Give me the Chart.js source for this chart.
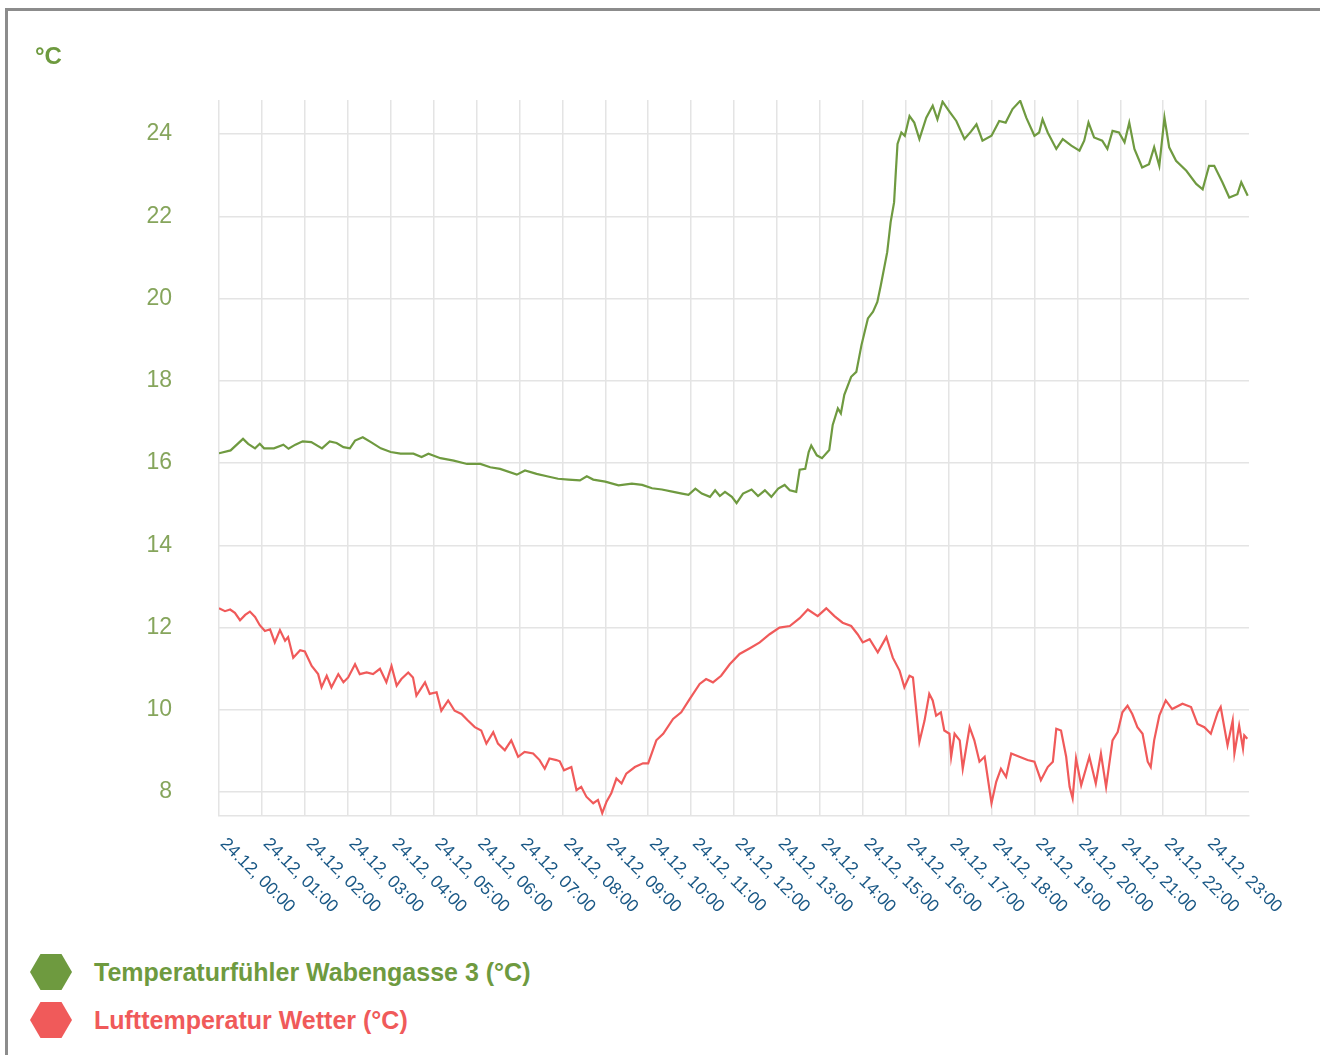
<!DOCTYPE html>
<html><head><meta charset="utf-8">
<script src="https://cdn.jsdelivr.net/npm/chart.js@4.4.1/dist/chart.umd.min.js"></script>
<style>
html,body{margin:0;padding:0;background:#fff;overflow:hidden;width:1320px;height:1055px;}
#frame{position:absolute;left:5px;top:8px;width:1400px;height:1200px;border:3px solid #8c8c8c;box-sizing:border-box;}
#c{position:absolute;left:0;top:0;}
#unit{position:absolute;left:35px;top:42px;font:bold 24px "Liberation Sans",Arial,sans-serif;color:#6e9a3f;}
.leg{position:absolute;left:30px;height:40px;display:flex;align-items:center;font:bold 25px "Liberation Sans",Arial,sans-serif;white-space:nowrap;}
.leg svg{margin-right:22px;flex:none}
</style></head>
<body>
<div id="frame"></div>
<canvas id="c" width="1320" height="940"></canvas>
<div id="unit">°C</div>
<div class="leg" id="leg0" style="top:952px;color:#6e9a3f"><svg width="42" height="36"><polygon points="0,18 10.5,0 31.5,0 42,18 31.5,36 10.5,36" fill="#6e9a3f"/></svg><span>Temperaturfühler Wabengasse 3 (°C)</span></div>
<div class="leg" id="leg1" style="top:1000px;color:#f05a5a"><svg width="42" height="36"><polygon points="0,18 10.5,0 31.5,0 42,18 31.5,36 10.5,36" fill="#f05a5a"/></svg><span>Lufttemperatur Wetter (°C)</span></div>
<script>
const seriesNames = ['Temperaturfühler Wabengasse 3 (°C)', 'Lufttemperatur Wetter (°C)'];
const hourTicks = [0,1,2,3,4,5,6,7,8,9,10,11,12,13,14,15,16,17,18,19,20,21,22,23];
const tickLabels = ['24.12, 00:00','24.12, 01:00','24.12, 02:00','24.12, 03:00','24.12, 04:00','24.12, 05:00','24.12, 06:00','24.12, 07:00','24.12, 08:00','24.12, 09:00','24.12, 10:00','24.12, 11:00','24.12, 12:00','24.12, 13:00','24.12, 14:00','24.12, 15:00','24.12, 16:00','24.12, 17:00','24.12, 18:00','24.12, 19:00','24.12, 20:00','24.12, 21:00','24.12, 22:00','24.12, 23:00'];
const yTicks = [8,10,12,14,16,18,20,22,24];

const greenTimes = [0.00,0.27,0.56,0.68,0.84,0.95,1.05,1.28,1.50,1.62,1.78,1.95,2.15,2.40,2.58,2.74,2.90,3.05,3.17,3.35,3.54,3.77,4.00,4.23,4.53,4.72,4.88,5.16,5.47,5.78,6.09,6.32,6.55,6.94,7.13,7.40,7.64,7.90,8.14,8.41,8.57,8.72,9.00,9.31,9.62,9.86,10.09,10.32,10.59,10.79,10.94,11.10,11.25,11.44,11.56,11.67,11.79,11.95,12.06,12.21,12.41,12.56,12.72,12.87,13.03,13.18,13.30,13.45,13.53,13.66,13.74,13.80,13.93,14.05,14.22,14.30,14.42,14.49,14.57,14.73,14.85,14.97,15.12,15.24,15.34,15.42,15.57,15.65,15.73,15.77,15.81,15.90,15.98,16.09,16.20,16.32,16.48,16.63,16.74,16.86,17.02,17.18,17.37,17.52,17.65,17.79,18.00,18.18,18.33,18.49,18.67,18.81,19.00,19.11,19.19,19.31,19.51,19.66,19.86,20.05,20.16,20.26,20.39,20.58,20.70,20.82,20.97,21.10,21.21,21.33,21.51,21.67,21.79,21.91,22.03,22.14,22.30,22.54,22.77,22.92,23.07,23.19,23.38,23.54,23.73,23.82,23.97];
const greenValues = [16.24,16.31,16.59,16.47,16.36,16.47,16.36,16.36,16.45,16.35,16.45,16.53,16.51,16.36,16.53,16.49,16.39,16.36,16.55,16.63,16.51,16.36,16.27,16.23,16.23,16.15,16.23,16.12,16.06,15.98,15.98,15.90,15.86,15.72,15.82,15.74,15.68,15.62,15.60,15.58,15.68,15.60,15.55,15.46,15.50,15.47,15.39,15.36,15.30,15.26,15.23,15.38,15.26,15.18,15.34,15.20,15.30,15.18,15.03,15.26,15.36,15.20,15.34,15.18,15.38,15.47,15.34,15.30,15.84,15.86,16.27,16.43,16.19,16.12,16.32,16.93,17.33,17.21,17.66,18.10,18.22,18.87,19.52,19.68,19.92,20.32,21.13,21.86,22.34,23.07,23.76,24.04,23.96,24.44,24.28,23.88,24.40,24.69,24.36,24.79,24.55,24.32,23.88,24.06,24.24,23.84,23.96,24.32,24.28,24.61,24.81,24.40,23.96,24.04,24.36,24.04,23.64,23.88,23.72,23.60,23.84,24.28,23.92,23.84,23.64,24.08,24.04,23.80,24.28,23.64,23.19,23.27,23.68,23.23,24.40,23.68,23.35,23.11,22.79,22.66,23.23,23.23,22.83,22.46,22.54,22.83,22.50];

const redTimes = [0.00,0.14,0.26,0.37,0.49,0.61,0.72,0.84,0.95,1.07,1.19,1.30,1.42,1.54,1.61,1.73,1.89,2.00,2.16,2.31,2.39,2.51,2.62,2.78,2.90,3.01,3.17,3.28,3.44,3.59,3.75,3.90,4.02,4.14,4.25,4.41,4.52,4.60,4.80,4.91,5.07,5.18,5.34,5.49,5.65,5.80,5.96,6.11,6.23,6.39,6.50,6.66,6.81,6.97,7.12,7.32,7.47,7.59,7.70,7.86,7.94,8.04,8.21,8.33,8.44,8.56,8.72,8.83,8.93,9.03,9.14,9.26,9.38,9.49,9.69,9.88,10.00,10.19,10.35,10.58,10.77,10.97,11.20,11.35,11.51,11.70,11.90,12.13,12.37,12.60,12.83,13.06,13.30,13.53,13.72,13.95,14.15,14.34,14.53,14.73,14.88,15.00,15.16,15.35,15.55,15.70,15.86,15.97,16.09,16.17,16.32,16.44,16.55,16.63,16.71,16.82,16.90,17.02,17.06,17.14,17.26,17.33,17.49,17.60,17.72,17.84,18.00,18.11,18.22,18.34,18.46,18.65,18.84,19.00,19.15,19.31,19.43,19.51,19.62,19.74,19.82,19.89,19.97,20.09,20.20,20.28,20.43,20.55,20.67,20.82,20.94,21.05,21.17,21.28,21.40,21.52,21.64,21.71,21.79,21.91,22.06,22.21,22.45,22.65,22.80,22.96,23.11,23.27,23.34,23.50,23.62,23.66,23.77,23.86,23.89,23.96];
const redValues = [12.47,12.40,12.44,12.36,12.18,12.31,12.39,12.26,12.06,11.92,11.96,11.64,11.94,11.68,11.77,11.27,11.45,11.42,11.07,10.87,10.55,10.83,10.55,10.87,10.67,10.79,11.11,10.87,10.91,10.87,11.00,10.67,11.07,10.59,10.75,10.91,10.79,10.35,10.67,10.39,10.43,9.98,10.23,9.98,9.90,9.74,9.58,9.50,9.18,9.46,9.18,9.02,9.26,8.86,8.98,8.94,8.78,8.57,8.82,8.78,8.75,8.53,8.61,8.05,8.13,7.89,7.73,7.81,7.49,7.77,7.97,8.33,8.21,8.45,8.61,8.70,8.70,9.26,9.42,9.78,9.94,10.27,10.63,10.75,10.67,10.83,11.11,11.36,11.50,11.64,11.84,12.00,12.04,12.23,12.44,12.28,12.47,12.28,12.12,12.04,11.84,11.64,11.72,11.40,11.77,11.27,10.95,10.55,10.83,10.79,9.22,9.74,10.39,10.23,9.86,9.94,9.50,9.42,8.86,9.42,9.26,8.57,9.58,9.26,8.74,8.86,7.73,8.25,8.57,8.37,8.94,8.86,8.78,8.74,8.29,8.61,8.74,9.54,9.50,8.86,8.13,7.85,8.82,8.17,8.57,8.86,8.21,8.94,8.13,9.26,9.46,9.94,10.10,9.90,9.58,9.42,8.74,8.61,9.26,9.86,10.23,10.02,10.15,10.07,9.66,9.58,9.42,9.94,10.07,9.14,9.74,8.94,9.62,9.06,9.38,9.30];

const GREEN = '#6f9a40', RED = '#f05a5a', GRID = '#e4e4e4';
const toPoints = (xs, ys) => xs.map((x, i) => ({x: x, y: ys[i]}));

const xLabelPlugin = {
  id: 'xLabels',
  afterDraw(chart) {
    const sc = chart.scales.x, ctx = chart.ctx;
    ctx.save();
    ctx.fillStyle = '#1a5886';
    ctx.font = '17.5px "Liberation Sans", Arial, sans-serif';
    ctx.textAlign = 'left';
    ctx.textBaseline = 'middle';
    hourTicks.forEach((h, i) => {
      const px = sc.getPixelForValue(h);
      ctx.save();
      ctx.translate(px + 4, chart.chartArea.bottom + 25);
      ctx.rotate(Math.PI / 4);
      ctx.fillText(tickLabels[i], 0, 0);
      ctx.restore();
    });
    ctx.restore();
  }
};

new Chart(document.getElementById('c'), {
  type: 'line',
  data: {
    datasets: [
      {label: seriesNames[0], data: toPoints(greenTimes, greenValues), borderColor: GREEN, backgroundColor: GREEN, borderWidth: 2.2, pointRadius: 0, tension: 0},
      {label: seriesNames[1], data: toPoints(redTimes, redValues), borderColor: RED, backgroundColor: RED, borderWidth: 2.2, pointRadius: 0, tension: 0}
    ]
  },
  options: {
    responsive: false,
    animation: false,
    devicePixelRatio: 1,
    layout: {padding: {top: 100, right: 71, bottom: 0, left: 0}},
    plugins: {legend: {display: false}, title: {display: false}, tooltip: {enabled: false}},
    scales: {
      x: {
        type: 'linear', min: 0, max: 24,
        afterBuildTicks: (s) => { s.ticks = hourTicks.map(v => ({value: v})); },
        afterFit: (s) => { s.height = 124; },
        ticks: {display: false},
        grid: {color: GRID, lineWidth: 1.5, drawTicks: false},
        border: {display: true, color: GRID, width: 1.5}
      },
      y: {
        min: 7.42, max: 24.83,
        afterBuildTicks: (s) => { s.ticks = yTicks.map(v => ({value: v})); },
        afterFit: (s) => { s.width = 219; },
        ticks: {color: '#86a55c', padding: 47, font: {family: '"Liberation Sans", Arial, sans-serif', size: 23}},
        grid: {color: GRID, lineWidth: 1.5, drawTicks: false},
        border: {display: false}
      }
    }
  },
  plugins: [xLabelPlugin]
});
</script>
</body></html>
